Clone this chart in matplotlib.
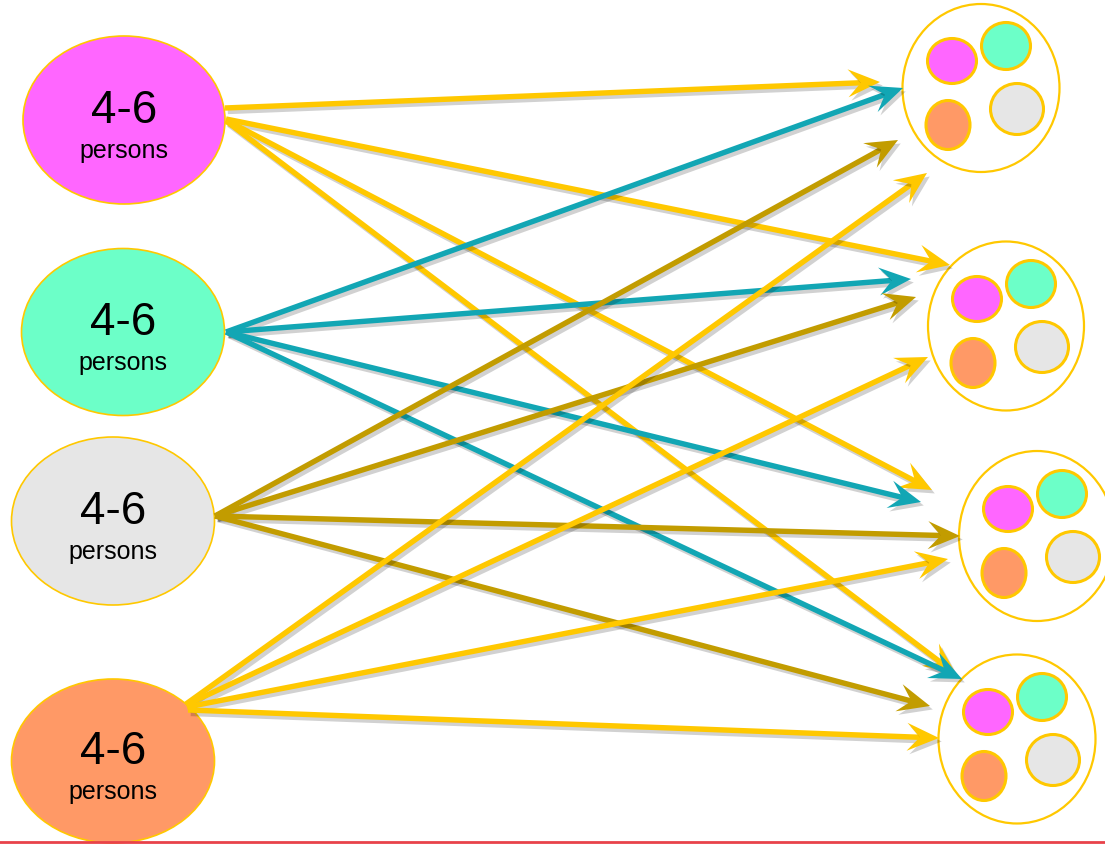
import matplotlib.pyplot as plt
import matplotlib.patches as mp
import matplotlib.patheffects as pe
import numpy as np

# groups on the left, tables on the right
group_sizes = ['4-6', '4-6', '4-6', '4-6']
group_unit = 'persons'
group_names = ['pink', 'green', 'grey', 'orange']
n_tables = 4
# which group goes to which table (source, target)
links = [(s, t) for s in range(4) for t in range(n_tables)]

# colours
fill = {'pink': '#ff66ff', 'green': '#6cffc8', 'grey': '#e6e6e6', 'orange': '#ff9966'}
arrow_col = {'pink': '#ffc800', 'green': '#12a6b4', 'grey': '#c29c00', 'orange': '#ffc800'}
edge = '#ffc800'

# layout in pixels (x, y, w, h)
src_pos = [(124, 121, 202, 168), (123, 333, 203, 167), (113, 522, 203, 168), (113, 762, 203, 164)]
tbl_pos = [(981, 89, 157, 168), (1006, 327, 156, 169), (1037, 537, 156, 170), (1017, 740, 157, 169)]
seat_off = {'pink': (-29, -27, 49, 45), 'green': (25, -42, 49, 47),
            'grey': (36, 21, 53, 51), 'orange': (-33, 37, 44, 49)}
starts = {0: [(225, 109), (226, 120), (226, 121), (226, 122)],
          1: [(226, 333)] * 4,
          2: [(215, 517)] * 4,
          3: [(186, 705), (186, 706), (187, 708), (188, 711)]}
tips = {0: [(880, 83), (950, 266), (932, 491), (956, 675)],
        1: [(903, 89), (911, 280), (921, 503), (962, 680)],
        2: [(898, 141), (916, 298), (960, 537), (930, 707)],
        3: [(927, 174), (928, 358), (948, 560), (939, 739)]}

fig = plt.figure(figsize=(11.05, 8.45), dpi=100)
ax = fig.add_axes([0, 0, 1, 1])
ax.set_xlim(0, 1105)
ax.set_ylim(845, 0)
ax.axis('off')

shadow_l = [pe.SimpleLineShadow(offset=(2, -2.5), shadow_color='k', alpha=0.18), pe.Normal()]
shadow_p = [pe.SimplePatchShadow(offset=(2, -2.5), shadow_rgbFace='k', alpha=0.18), pe.Normal()]


def arrow(p0, p1, color, z):
	p0 = np.array(p0, float)
	p1 = np.array(p1, float)
	d = (p1 - p0) / np.hypot(*(p1 - p0))
	n = np.array([-d[1], d[0]])
	L, W = 32, 28
	end = p1 - 0.55 * L * d
	ax.plot([p0[0], end[0]], [p0[1], end[1]], color=color, lw=3.9,
		solid_capstyle='butt', zorder=z, path_effects=shadow_l)
	head = [p1, p1 - L * d + W / 2 * n, p1 - 0.6 * L * d, p1 - L * d - W / 2 * n]
	ax.add_patch(mp.Polygon(head, closed=True, fc=color, ec='none', zorder=z + 0.5,
		path_effects=shadow_p))


# left ellipses
for i, g in enumerate(group_names):
	x, y, w, h = src_pos[i]
	ax.add_patch(mp.Ellipse((x, y), w, h, fc=fill[g], ec=edge, lw=1.2, zorder=1))
	ax.text(x, y + 2, group_sizes[i], ha='center', va='baseline', fontsize=33,
		family='Liberation Sans', zorder=2)
	ax.text(x, y + 37, group_unit, ha='center', va='baseline', fontsize=18,
		family='Liberation Sans', zorder=2)

# right tables
for t in range(n_tables):
	x, y, w, h = tbl_pos[t]
	ax.add_patch(mp.Ellipse((x, y), w, h, fc='white', ec=edge, lw=1.6, zorder=1))
	for g in group_names:
		dx, dy, sw, sh = seat_off[g]
		ax.add_patch(mp.Ellipse((x + dx, y + dy), sw, sh, fc=fill[g], ec=edge, lw=2.2, zorder=1.5))

# arrows
z = 3
for s, t in links:
	arrow(starts[s][t], tips[s][t], arrow_col[group_names[s]], z)
	z += 1

ax.plot([0, 1105], [842.5, 842.5], color='#e8424a', lw=2, zorder=50)

fig.savefig('out.png', dpi=100)
